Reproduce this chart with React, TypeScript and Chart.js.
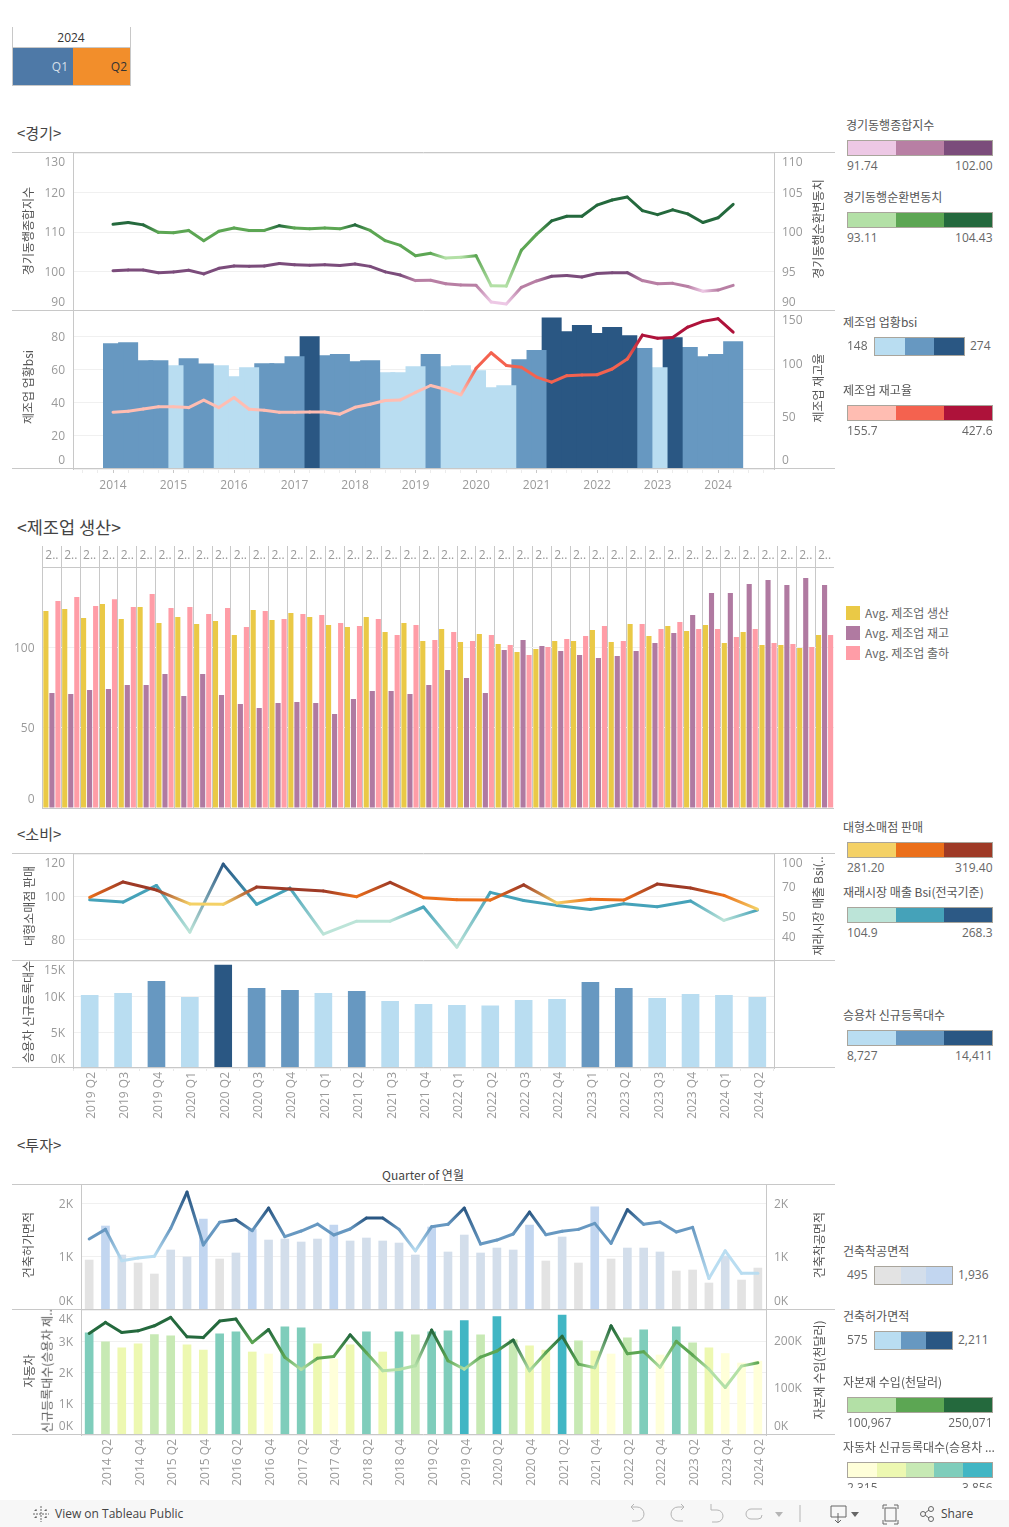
import React, { useEffect, useRef } from "react";
import { Chart, registerables } from "chart.js";

Chart.register(...registerables);

// ---------- data ----------
const compositeIndex = [100.2,100.4,100.4,99.7,99.9,100.3,99.4,100.8,101.4,101.3,101.4,102.0,101.7,101.6,101.7,101.5,101.9,101.3,99.9,99.1,97.7,97.8,96.9,96.6,96.5,92.3,91.8,96.0,97.6,98.8,99.0,98.6,99.5,99.7,99.7,97.7,96.9,97.0,96.2,95.0,95.3,96.5];
const cycleIndex = [100.97,101.2,100.9,99.96,99.9,100.2,98.9,100.1,100.5,100.2,100.2,100.8,100.5,100.4,100.5,100.4,100.9,100.2,98.9,98.3,97.0,97.3,96.7,96.8,97.0,93.2,93.15,97.7,99.7,101.4,102.0,102.0,103.4,104.05,104.43,102.7,102.2,102.8,102.3,101.2,101.8,103.5];
const bsiValues = [75.8,76.4,65.5,65.5,62.5,66.7,63.5,62.5,55.8,61.3,63.7,63.7,67.9,80,68.5,69.2,64.9,65.5,58.3,58.3,61.9,69.2,61.9,62.5,59.5,49.3,50.4,66.1,71.6,91.3,83,86.7,81.9,85.5,80.6,72.8,61.3,79.4,73.4,67.9,69.2,77];
const inventoryRate = [53.7,54.6,56.8,59,59,58.1,65.1,58.1,67.6,56.5,55.6,53.7,53.7,54,54,51.9,58.4,61.3,64.8,65.4,72.4,79,75.2,70.2,95.2,110,98,96.2,87,82.2,88.3,88.9,89.2,94.6,104,126.7,123.8,124.4,134.3,139.7,142.2,129.5];

const paneLabels = Array.from({ length: 42 }, () => "2..");
const production = [122.6,123.9,118.3,127,117.6,125.1,115.1,118.9,114.5,116.4,107.7,123.2,117,121.4,118.9,113.9,112.7,118.9,109.5,115.1,103.9,111.4,103.3,108.3,102.1,97.1,99,103.9,103.9,110.8,103.3,114.5,107.1,113.3,110.2,113.9,102.7,109.5,101.5,101.5,99.6,107.7];
const inventory = [71.6,71,73.4,74,76.6,76.6,83.4,69.7,83.4,70.3,64.7,62.2,65.4,66,65.4,58.5,67.8,72.8,72.8,71,76.6,85.9,80.9,71.6,98.3,104.6,100.8,97.7,95.2,93.4,94.6,97.7,102.7,108.9,120.1,133.8,133.8,139.4,141.9,138.8,143.2,138.8];
const shipment = [128.8,131.3,125.7,130,125.1,133.2,124.5,125.1,120.7,124.5,112.7,122.6,117.6,120.7,120.1,115.1,113.3,117.6,107.7,113.9,104.6,109.5,103.9,107.7,101.5,95.2,100.2,105.2,107.1,113.3,103.9,114.5,111.4,115.8,111.4,111.4,106.4,111.4,102.7,102.1,100.2,107.7];

const consumerQuarters = ["2019 Q2","2019 Q3","2019 Q4","2020 Q1","2020 Q2","2020 Q3","2020 Q4","2021 Q1","2021 Q2","2021 Q3","2021 Q4","2022 Q1","2022 Q2","2022 Q3","2022 Q4","2023 Q1","2023 Q2","2023 Q3","2023 Q4","2024 Q1","2024 Q2"];
const largeRetail = [99.7,106.9,103.1,96.6,96.4,104.5,103.6,102.7,100,106.7,99.5,98.6,98.4,105.5,97,98.8,98.4,105.9,104.1,100.6,94.1];
const marketBsi = [60.1,58.6,70.5,42,89.4,57.2,68.5,41.1,47.4,47.4,55.5,35.5,65.3,59.7,56.5,54,57.5,55.6,59.3,47.8,53.6];
const carRegistrations = [10188,10470,12160,9906,14411,11174,10892,10470,10751,9343,8920,8780,8727,9484,9624,12019,11174,9765,10329,10188,9906];

const investQuarters = Array.from({ length: 42 }, (_, i) => `${2014 + Math.floor(i / 4)} Q${(i % 4) + 1}`);
const permitArea = [1331,1512,925,975,1006,1531,2211,1219,1644,1694,1488,1912,1375,1481,1612,1406,1519,1725,1725,1512,1110,1562,1606,1912,1237,1312,1425,1837,1412,1475,1512,1625,1250,1881,1606,1650,1462,1550,590,1110,688,688];
const startArea = [937,1575,1031,881,675,1125,994,1706,956,1069,1519,1312,1331,1275,1331,1594,1294,1350,1294,1256,1031,1556,1088,1406,1069,1162,1125,1594,919,1369,881,1936,956,1162,1162,1088,731,750,506,1012,562,787];
const allRegistrations = [3286,2995,2800,2930,3230,3189,2897,2735,3254,3319,2670,2605,3481,3449,2930,2443,2897,3319,2670,3319,3222,3319,3351,3676,3222,3805,3059,2865,2735,3856,3027,2703,2605,3124,3384,2573,3481,2962,2800,2620,2315,2378];
const capitalImports = [215.7,239.3,217.9,221.4,232.1,250,208.6,207.1,242.1,246.4,196.4,224.3,165,139.3,162.9,167.1,212.9,175,136.4,139.3,147.1,222.9,157.9,140,165.7,178.6,202,136.4,175,210,150.7,142.9,232,172.9,177,144,199,170,140,101,146.4,153.6].map((v) => v * 1000);

const quarterSteps = [-2,-1,0,1,2,3,4,5,6,7,8,9,10,11,12,13,14,15,16,17,18,19,20,21,22,23,24,25,26,27,28,29,30,31,32,33,34,35,36,37,38,39,40,41,42,43];

// ---------- style ----------
const PURPLE = ["#EDC8E5", "#B87FA4", "#7B4C7B"];
const GREEN = ["#B3E0A6", "#5CA653", "#24693D"];
const BLUE = ["#B9DDF1", "#6798C1", "#2A5783"];
const RED = ["#FFBDB2", "#F4624F", "#AE123A"];
const ORANGE = ["#F4D166", "#EB6F1A", "#9E3A26"];
const TEAL = ["#BCE4D8", "#45A2B9", "#2C5985"];
const GREY = ["#E3E3E3", "#D3DEEB", "#C2D6F0"];
const YLGNBU = ["#FFFFD9", "#EDF8B1", "#C7E9B4", "#7FCDBB", "#41B6C4"];
const AXIS = "#c8c8c8";
const GRID = "#f0f0f0";
const TICK = "#9a9a9a";
const FAMILY = '"Open Sans", "Noto Sans CJK KR", sans-serif';
const KFAMILY = '"Noto Sans CJK KR", "Open Sans", sans-serif';
const tickFont = { family: FAMILY, size: 12 };

const stepColor = (v: number, lo: number, hi: number, pal: string[]) =>
  pal[Math.max(0, Math.min(pal.length - 1, Math.floor(((v - lo) / (hi - lo)) * pal.length)))];

const gradSegment = (values: number[], colorOf: (v: number) => string) => ({
  borderColor: (c: any) => {
    const g = c.chart.ctx.createLinearGradient(c.p0.x, c.p0.y, c.p1.x, c.p1.y);
    g.addColorStop(0, colorOf(values[c.p0DataIndex]));
    g.addColorStop(1, colorOf(values[c.p1DataIndex]));
    return g;
  },
});

const lineDs = (data: any[], values: number[], colorOf: (v: number) => string, yAxisID: string) => ({
  type: "line",
  data,
  yAxisID,
  order: 0,
  borderWidth: 3,
  pointRadius: 0,
  tension: 0,
  clip: false,
  borderCapStyle: "round",
  borderJoinStyle: "round",
  borderColor: colorOf(values[0]),
  segment: gradSegment(values, colorOf),
});

const noPadding = (s: any) => {
  s.paddingTop = 0;
  s.paddingBottom = 0;
  s.paddingLeft = 0;
  s.paddingRight = 0;
};

const yAxis = (position: string, width: number, min: number, max: number, ticks: number[], fmt: (v: number) => string, grid: boolean, type = "linear") => ({
  type,
  position,
  min,
  max,
  afterBuildTicks: (s: any) => {
    s.ticks = ticks.map((value) => ({ value }));
  },
  afterFit: (s: any) => {
    s.width = width;
    noPadding(s);
  },
  grid: { color: GRID, drawOnChartArea: grid, drawTicks: false },
  border: { color: AXIS },
  ticks: { font: tickFont, color: TICK, padding: 8, autoSkip: false, callback: fmt, display: ticks.length > 0 },
});

const plain = (v: number) => String(v);
const kilo = (v: number) => `${v / 1000}K`;

const framePlugin = (lines: number[], x0 = 0) => ({
  id: "frame",
  afterDraw(chart: any) {
    const c = chart.ctx;
    c.save();
    c.strokeStyle = AXIS;
    c.lineWidth = 1;
    lines.forEach((y) => {
      c.beginPath();
      c.moveTo(x0, y);
      c.lineTo(chart.width, y);
      c.stroke();
    });
    c.restore();
  },
});

const clampPlugin = {
  id: "clampLabels",
  beforeDraw(chart: any) {
    Object.values(chart.scales).forEach((s: any) => {
      s.getLabelItems().forEach((it: any) => {
        if (it.adjusted) return;
        it.adjusted = true;
        const t = it.options.translation;
        if (s.isHorizontal()) {
          if (s.labelRotation > 45) t[0] += 2;
        } else {
          t[1] = Math.max(s.top + 9.5, Math.min(s.bottom - 8.5, t[1] + 1));
        }
      });
    });
  },
};

const baseOptions = (bottomPad: number, scales: any, top = 1) => ({
  responsive: false,
  animation: false,
  maintainAspectRatio: false,
  layout: { padding: { top, bottom: bottomPad, left: 0, right: 0 } },
  plugins: { legend: { display: false }, tooltip: { enabled: false } },
  scales,
});

const hiddenLinearX = { type: "linear", display: false, min: -2.645, max: 43.7, offset: false };

// ---------- panels ----------
const businessConfig = () => ({
  type: "line",
  data: {
    datasets: [
      lineDs(compositeIndex.map((y, x) => ({ x, y })), compositeIndex, (v) => stepColor(v, 91.74, 102, PURPLE), "y"),
      lineDs(cycleIndex.map((y, x) => ({ x, y })), cycleIndex, (v) => stepColor(v, 93.11, 104.43, GREEN), "yr"),
    ],
  },
  options: baseOptions(0, {
    x: hiddenLinearX,
    y: yAxis("left", 61, 90, 130, [90, 100, 110, 120, 130], plain, true),
    yr: yAxis("right", 61, 90, 110, [90, 95, 100, 105, 110], plain, false),
  }),
  plugins: [clampPlugin, framePlugin([0.5])],
});

const bsiConfig = () => ({
  type: "bar",
  data: {
    datasets: [
      {
        type: "bar",
        order: 1,
        yAxisID: "y",
        barThickness: 20,
        inflateAmount: 0,
        data: bsiValues.map((y, x) => ({ x, y })).reverse(),
        backgroundColor: (c: any) => stepColor(c.raw ? c.raw.y : 0, 49.3, 91.3, BLUE),
      },
      lineDs(inventoryRate.map((y, x) => ({ x, y })), inventoryRate, (v) => stepColor(v, 51.9, 142.5, RED), "yr"),
    ],
  },
  options: baseOptions(0, {
    x: {
      type: "linear",
      offset: false,
      min: -2.645,
      max: 43.7,
      afterBuildTicks: (s: any) => {
        s.ticks = quarterSteps.map((value) => ({ value }));
      },
      afterFit: (s: any) => {
        s.height = 27;
        noPadding(s);
      },
      grid: {
        offset: false,
        drawOnChartArea: false,
        tickLength: 4,
        tickColor: (c: any) => (c.tick && c.tick.value % 4 === 0 ? AXIS : "#ececec"),
      },
      border: { display: false },
      ticks: {
        font: tickFont,
        color: TICK,
        padding: 5,
        autoSkip: false,
        maxRotation: 0,
        callback: (v: number) => (v >= 0 && v % 4 === 0 ? String(2014 + v / 4) : ""),
      },
    },
    y: yAxis("left", 61, 0, 95.15, [0, 20, 40, 60, 80], plain, true),
    yr: yAxis("right", 61, 0, 149.5, [0, 50, 100, 150], plain, false),
  }),
  plugins: [clampPlugin, framePlugin([0.5, 158.5])],
});

const manufacturingConfig = () => ({
  type: "bar",
  data: {
    labels: paneLabels,
    datasets: [
      { label: "Avg. 제조업 생산", data: production, backgroundColor: "#EAC946" },
      { label: "Avg. 제조업 재고", data: inventory, backgroundColor: "#B07AA1" },
      { label: "Avg. 제조업 출하", data: shipment, backgroundColor: "#FF9DA7" },
    ],
  },
  options: {
    ...baseOptions(1, {
      x: {
        position: "top",
        afterFit: (s: any) => {
          s.height = 21;
          noPadding(s);
        },
        grid: { color: AXIS, offset: true, tickLength: 21, tickColor: AXIS },
        border: { color: AXIS },
        ticks: { font: tickFont, color: TICK, padding: -17, autoSkip: false, maxRotation: 0, minRotation: 0 },
      },
      y: yAxis("left", 30.5, 0, 150, [0, 50, 100], plain, true),
    }, 0),
    datasets: { bar: { categoryPercentage: 0.96, barPercentage: 0.85 } },
  },
  plugins: [clampPlugin, framePlugin([262.5], 30)],
});

const retailConfig = () => ({
  type: "line",
  data: {
    labels: consumerQuarters,
    datasets: [
      lineDs(largeRetail, largeRetail, (v) => stepColor(v, 93.73, 106.47, ORANGE), "y"),
      lineDs(marketBsi, marketBsi, (v) => stepColor(v, 35, 89.4, TEAL), "yr"),
    ],
  },
  options: baseOptions(0, {
    x: { type: "category", display: false, offset: true },
    y: yAxis("left", 61, 70.3, 120, [80, 100, 120], plain, true),
    yr: yAxis("right", 61, 30.8, 100, [40, 50, 70, 100], plain, false, "logarithmic"),
  }),
  plugins: [clampPlugin, framePlugin([0.5])],
});

const rotatedX = (height: number, ticks: any, grid: any) => ({
  type: "category",
  offset: true,
  afterFit: (s: any) => {
    s.height = height;
    noPadding(s);
  },
  grid: { offset: true, drawOnChartArea: false, ...grid },
  border: { display: false },
  ticks: { font: tickFont, color: TICK, autoSkip: false, minRotation: 90, maxRotation: 90, ...ticks },
});

const carsConfig = () => ({
  type: "bar",
  data: {
    labels: consumerQuarters,
    datasets: [
      {
        data: carRegistrations,
        barThickness: 17,
        backgroundColor: carRegistrations.map((v) => stepColor(v, 8727, 14411, BLUE)),
      },
    ],
  },
  options: baseOptions(0, {
    x: rotatedX(54, { padding: 1 }, { tickLength: 3, tickColor: "#e8e8e8" }),
    y: yAxis("left", 61, 0, 15000, [0, 5000, 10000, 15000], kilo, true),
    yr: yAxis("right", 61, 0, 15000, [], plain, false),
  }),
  plugins: [clampPlugin, framePlugin([0.5, 107.5])],
});

const areaConfig = () => ({
  type: "bar",
  data: {
    labels: investQuarters,
    datasets: [
      {
        type: "bar",
        order: 1,
        yAxisID: "yr",
        barThickness: 8,
        data: startArea,
        backgroundColor: startArea.map((v) => stepColor(v, 495, 1936, GREY)),
      },
      lineDs(permitArea, permitArea, (v) => stepColor(v, 575, 2211, BLUE), "y"),
    ],
  },
  options: baseOptions(0, {
    x: { type: "category", display: false, offset: true },
    y: yAxis("left", 69, 0, 2344, [0, 1000, 2000], kilo, true),
    yr: yAxis("right", 69, 0, 2344, [0, 1000, 2000], kilo, false),
  }),
  plugins: [clampPlugin, framePlugin([0.5])],
});

const capitalConfig = () => ({
  type: "bar",
  data: {
    labels: investQuarters,
    datasets: [
      {
        type: "bar",
        order: 1,
        yAxisID: "y",
        barThickness: 8,
        data: allRegistrations,
        backgroundColor: allRegistrations.map((v) => stepColor(v, 2315, 3856, YLGNBU)),
      },
      lineDs(capitalImports, capitalImports, (v) => stepColor(v, 100967, 250071, GREEN), "yr"),
    ],
  },
  options: baseOptions(0, {
    x: rotatedX(56, { padding: 4, callback(this: any, _v: any, i: number) { return i % 2 === 1 ? investQuarters[i] : ""; } }, { display: false, drawTicks: false }),
    y: yAxis("left", 69, 0, 4020, [0, 1000, 2000, 3000, 4000], kilo, true),
    yr: yAxis("right", 69, 0, 265700, [0, 100000, 200000], kilo, false),
  }),
  plugins: [clampPlugin, framePlugin([0.5, 125.5])],
});

// ---------- components ----------
function ChartBox({ make, left, top, width, height }: any) {
  const ref = useRef<HTMLCanvasElement>(null);
  useEffect(() => {
    const chart = new Chart(ref.current as any, make());
    return () => chart.destroy();
  }, [make]);
  return <canvas ref={ref} width={width} height={height} style={{ position: "absolute", left, top, width, height, display: "block" }} />;
}

const abs = (left: number, top: number, extra: any = {}) => ({ position: "absolute", left, top, ...extra });

function Txt({ x, y, children, size = 12, color = "#555", align = "left", family = KFAMILY }: any) {
  const tx = align === "left" ? "0" : align === "right" ? "-100%" : "-50%";
  return (
    <div style={{ position: "absolute", left: x, top: y, transform: `translate(${tx},-50%)`, whiteSpace: "nowrap", fontSize: size, color, fontFamily: family, lineHeight: 1.2 }}>
      {children}
    </div>
  );
}

function VText({ x, y, children }: any) {
  return (
    <div style={{ position: "absolute", left: x, top: y, transform: "translate(-50%,-50%) rotate(-90deg)", whiteSpace: "nowrap", fontSize: 12, color: "#555", fontFamily: KFAMILY, lineHeight: 1.2 }}>
      {children}
    </div>
  );
}

function Ramp({ x, y, w, h, colors }: any) {
  return (
    <div style={{ position: "absolute", left: x, top: y, width: w, height: h, boxSizing: "border-box", border: "1px solid #a9a59c", display: "flex" }}>
      {colors.map((c: string) => (
        <div key={c} style={{ flex: 1, background: c }} />
      ))}
    </div>
  );
}

function LegendBelow({ title, tx = 843, ty, by, colors, lo, hi }: any) {
  return (
    <>
      <Txt x={tx} y={ty}>{title}</Txt>
      <Ramp x={847} y={by} w={146} h={16} colors={colors} />
      <Txt x={847} y={by + 26} color="#666" family={FAMILY}>{lo}</Txt>
      <Txt x={992.5} y={by + 26} color="#666" align="right" family={FAMILY}>{hi}</Txt>
    </>
  );
}

function LegendSide({ title, ty, by, bw, colors, lo, hi }: any) {
  return (
    <>
      <Txt x={843} y={ty}>{title}</Txt>
      <Ramp x={874} y={by} w={bw} h={19} colors={colors} />
      <Txt x={847} y={by + 9} color="#666" family={FAMILY}>{lo}</Txt>
      <Txt x={874 + bw + 5} y={by + 9} color="#666" family={FAMILY}>{hi}</Txt>
    </>
  );
}

function Toolbar() {
  const g = "#b5b5b5";
  const d = "#666";
  return (
    <div style={{ position: "absolute", left: 0, top: 1500, width: 1009, height: 27, background: "#f7f7f7" }}>
      <svg width="1009" height="27" style={{ position: "absolute", left: 0, top: 0 }} fill="none">
        <g stroke={d} strokeWidth="1" strokeDasharray="2 1">
          <path d="M41 6v16M33 14h16M36 9v3M34.5 10.5h3M46 9v3M44.5 10.5h3M36 16v3M34.5 17.5h3M46 16v3M44.5 17.5h3" />
        </g>
        <g stroke={g} strokeWidth="1">
          <path d="M631 7h6a7 7 0 0 1 0 14h-5M631 7l3-3M631 7l3 3" />
          <path d="M684 7h-6a7 7 0 0 0 0 14h5M684 7l-3-3M684 7l-3 3" />
          <path d="M711 4v6h6a6 6 0 0 1 0 12h-5" />
          <path d="M762 9h-11a4 4 0 0 0 0 10h7a4 4 0 0 0 4-4" />
          <path d="M800 5v17" />
        </g>
        <path d="M775 12h8l-4 5z" fill={g} />
        <g stroke={d} strokeWidth="1">
          <path d="M831 6h15v11h-15zM838 13v10M835 20l3 3 3-3" />
          <rect x="885" y="8" width="11" height="13" />
          <path d="M883 9V5h4M898 9V5h-4M883 20v4h4M898 20v4h-4" />
          <circle cx="923" cy="14" r="2.5" />
          <circle cx="931" cy="9" r="2.5" />
          <circle cx="931" cy="19" r="2.5" />
          <path d="M925 13l4-3M925 15l4 3" />
        </g>
        <path d="M851 12h8l-4 5z" fill={d} />
      </svg>
      <Txt x={55} y={14} color="#444" family={'"Open Sans", sans-serif'}>View on Tableau Public</Txt>
      <Txt x={941} y={14} color="#444" family={'"Open Sans", sans-serif'}>Share</Txt>
    </div>
  );
}

export default function App() {
  return (
    <div style={{ position: "absolute", left: 0, top: 0, width: 1009, height: 1527, overflow: "hidden", background: "#fff" } as any}>
      {/* period legend */}
      <div style={abs(12, 27, { width: 119, height: 59, boxSizing: "border-box", borderLeft: `1px solid ${AXIS}`, borderRight: `1px solid ${AXIS}`, borderBottom: `1px solid ${AXIS}` }) as any} />
      <div style={abs(12, 47, { width: 119, height: 1, background: AXIS }) as any} />
      <div style={abs(13, 48, { width: 60, height: 37, background: "#4E79A7" }) as any} />
      <div style={abs(73, 48, { width: 57, height: 37, background: "#F28E2B" }) as any} />
      <Txt x={71} y={38} align="center" color="#333" family={FAMILY}>2024</Txt>
      <Txt x={68} y={67} align="right" color="#d5dfe9" family={FAMILY}>Q1</Txt>
      <Txt x={127} y={67} align="right" color="#333" family={FAMILY}>Q2</Txt>

      {/* headings */}
      <Txt x={17} y={133} size={15} color="#444">&lt;경기&gt;</Txt>
      <Txt x={17} y={526} size={17.5} color="#444">&lt;제조업 생산&gt;</Txt>
      <Txt x={17} y={834} size={15} color="#444">&lt;소비&gt;</Txt>
      <Txt x={17} y={1145} size={15} color="#444">&lt;투자&gt;</Txt>
      <Txt x={423} y={1175} align="center" color="#444">Quarter of 연월</Txt>

      {/* charts */}
      <ChartBox make={businessConfig} left={12} top={152} width={823} height={159} />
      <ChartBox make={bsiConfig} left={12} top={310} width={823} height={186} />
      <ChartBox make={manufacturingConfig} left={12} top={546} width={822} height={263} />
      <ChartBox make={retailConfig} left={12} top={853} width={823} height={107} />
      <ChartBox make={carsConfig} left={12} top={960} width={823} height={162} />
      <ChartBox make={areaConfig} left={12} top={1184} width={823} height={126} />
      <ChartBox make={capitalConfig} left={12} top={1309} width={823} height={182} />

      {/* axis titles */}
      <VText x={28} y={231}>경기동행종합지수</VText>
      <VText x={818} y={229}>경기동행순환변동치</VText>
      <VText x={28} y={387}>제조업 업황bsi</VText>
      <VText x={818} y={388}>제조업 재고율</VText>
      <VText x={29} y={906}>대형소매점 판매</VText>
      <VText x={818} y={906}>재래시장 매출 Bsi(..</VText>
      <VText x={28} y={1012}>승용차 신규등록대수</VText>
      <VText x={28} y={1245}>건축허가면적</VText>
      <VText x={819} y={1245}>건축착공면적</VText>
      <VText x={29} y={1371}>자동차</VText>
      <VText x={47} y={1371}>신규등록대수(승용차 제..</VText>
      <VText x={819} y={1370}>자본재 수입(천달러)</VText>

      {/* colour legends */}
      <LegendBelow title="경기동행종합지수" tx={846} ty={125} by={140} colors={PURPLE} lo="91.74" hi="102.00" />
      <LegendBelow title="경기동행순환변동치" ty={197} by={212} colors={GREEN} lo="93.11" hi="104.43" />
      <LegendSide title="제조업 업황bsi" ty={322} by={337} bw={91} colors={BLUE} lo="148" hi="274" />
      <LegendBelow title="제조업 재고율" ty={390} by={405} colors={RED} lo="155.7" hi="427.6" />
      <LegendBelow title="대형소매점 판매" ty={827} by={842} colors={ORANGE} lo="281.20" hi="319.40" />
      <LegendBelow title="재래시장 매출 Bsi(전국기준)" ty={892} by={907} colors={TEAL} lo="104.9" hi="268.3" />
      <LegendBelow title="승용차 신규등록대수" ty={1015} by={1030} colors={BLUE} lo="8,727" hi="14,411" />
      <LegendSide title="건축착공면적" ty={1251} by={1266} bw={79} colors={GREY} lo="495" hi="1,936" />
      <LegendSide title="건축허가면적" ty={1316} by={1331} bw={79} colors={BLUE} lo="575" hi="2,211" />
      <LegendBelow title="자본재 수입(천달러)" ty={1382} by={1397} colors={GREEN} lo="100,967" hi="250,071" />
      <LegendBelow title="자동차 신규등록대수(승용차 ..." ty={1447} by={1462} colors={YLGNBU} lo="2,315" hi="3,856" />

      {/* measure legend */}
      {[["#EAC946", "Avg. 제조업 생산", 606], ["#B07AA1", "Avg. 제조업 재고", 626], ["#FF9DA7", "Avg. 제조업 출하", 646]].map(([c, t, y]: any) => (
        <React.Fragment key={t}>
          <div style={abs(846, y, { width: 14, height: 14, background: c }) as any} />
          <Txt x={865} y={y + 7} color="#666">{t}</Txt>
        </React.Fragment>
      ))}

      <div style={abs(0, 1488, { width: 1009, height: 12, background: "#fff" }) as any} />
      <Toolbar />
    </div>
  );
}
